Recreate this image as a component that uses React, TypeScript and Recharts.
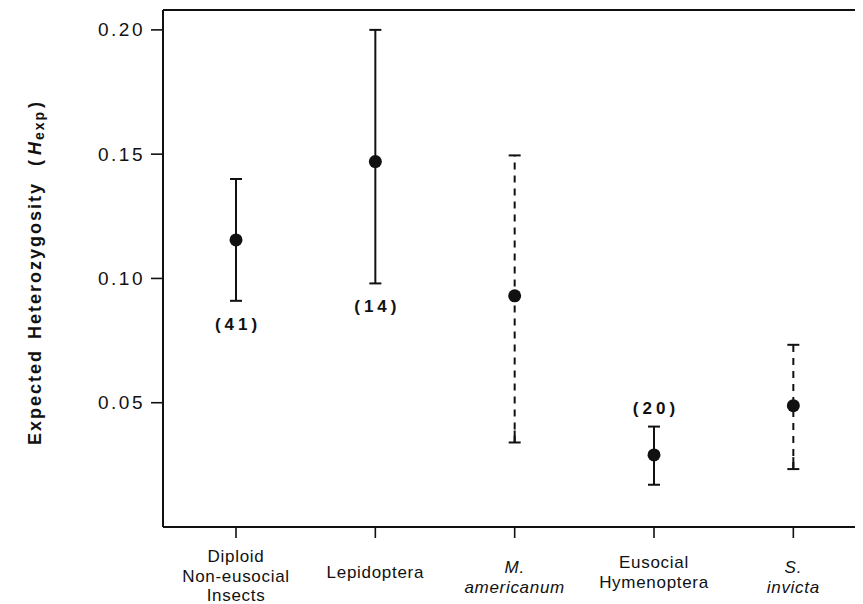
import React from 'react';
import { ComposedChart, Scatter, ErrorBar, XAxis, YAxis, ReferenceLine, ReferenceDot } from 'recharts';

// groups along the x axis
const categories = ['Diploid Non-eusocial Insects', 'Lepidoptera', 'M. americanum', 'Eusocial Hymenoptera', 'S. invicta'];
const tickLines = [['Diploid', 'Non-eusocial', 'Insects'], ['Lepidoptera'], ['M.', 'americanum'], ['Eusocial', 'Hymenoptera'], ['S.', 'invicta']];
const italicLabel = [false, false, true, false, true];

// expected heterozygosity, mean and interval ends
const meanH = [0.1155, 0.147, 0.093, 0.029, 0.0488];
const lowerH = [0.091, 0.098, 0.034, 0.017, 0.0233];
const upperH = [0.14, 0.2, 0.1495, 0.0404, 0.0733];
const dashed = [false, false, true, false, true];

// number of species per group
const sampleN = ['41', '14', '', '20', ''];
const nAbove = [false, false, false, true, false];

const yTicks = [0.05, 0.1, 0.15, 0.2];
const Y_MAX = 0.208;

const FONT = '"Liberation Sans", Arial, Helvetica, sans-serif';
const INK = '#111';

const rows = categories.map((name, i) => ({
  x: i,
  name,
  mean: meanH[i],
  err: [meanH[i] - lowerH[i], upperH[i] - meanH[i]],
}));
const solidRows = rows.filter((_, i) => !dashed[i]);
const dashedRows = rows.filter((_, i) => dashed[i]);

// first baseline below the axis line for each label block
const labelTop = [35, 51, 46, 41, 46];

const CategoryTick = (props: any) => {
  const { x, y, payload } = props;
  const i = payload.value;
  const lines = tickLines[i] || [];
  const base = y - 11;
  return (
    <g>
      {lines.map((line, k) => (
        <text
          key={k}
          x={x}
          y={base + labelTop[i] + k * 19.5}
          textAnchor="middle"
          fontFamily={FONT}
          fontSize={17}
          letterSpacing={0.7}
          fontStyle={italicLabel[i] ? 'italic' : 'normal'}
          fill={INK}
        >
          {line}
        </text>
      ))}
    </g>
  );
};

const ValueTick = (props: any) => {
  const { x, y, payload } = props;
  return (
    <text x={x} y={y} dy={6.5} textAnchor="end" fontFamily={FONT} fontSize={19} letterSpacing={2.5} fill={INK}>
      {Number(payload.value).toFixed(2)}
    </text>
  );
};

const Dot = (props: any) => <circle cx={props.cx} cy={props.cy} r={6.5} fill={INK} />;

const YTitle = (props: any) => {
  const vb = props.viewBox || {};
  const cx = 27;
  const cy = vb.y + vb.height / 2 + 4;
  return (
    <text
      x={cx}
      y={cy}
      transform={`rotate(-90 ${cx} ${cy})`}
      textAnchor="middle"
      dominantBaseline="central"
      fontFamily={FONT}
      fontSize={18}
      fontWeight="bold"
      letterSpacing={2}
      fill={INK}
    >
      Expected
      <tspan dx={10}>Heterozygosity</tspan>
      <tspan dx={16}>(</tspan>
      <tspan dx={3} fontStyle="italic">H</tspan>
      <tspan fontSize={14} dy={4}>exp</tspan>
      <tspan dy={-4} dx={2}>)</tspan>
    </text>
  );
};

const SampleLabel = (i: number) => (p: any) => (
  <text
    x={p.cx + 2}
    y={p.cy + (nAbove[i] ? -13 : 29)}
    textAnchor="middle"
    fontFamily={FONT}
    fontSize={17}
    fontWeight="bold"
    letterSpacing={4}
    fill={INK}
  >
    ({sampleN[i]})
  </text>
);

export default function App() {
  return (
    <ComposedChart width={855} height={596} margin={{ top: 2, right: 0, bottom: 0, left: 0 }}>
      <XAxis
        type="number"
        dataKey="x"
        domain={[-0.524, 4.5]}
        allowDataOverflow
        ticks={[0, 1, 2, 3, 4]}
        height={77}
        tickSize={11}
        tickMargin={0}
        tick={<CategoryTick />}
        axisLine={{ stroke: INK, strokeWidth: 2 }}
        tickLine={{ stroke: INK, strokeWidth: 1.6 }}
      />
      <YAxis
        type="number"
        dataKey="mean"
        domain={[0, Y_MAX]}
        allowDataOverflow
        ticks={yTicks}
        width={155}
        tickSize={12}
        tickMargin={6}
        tick={<ValueTick />}
        axisLine={{ stroke: INK, strokeWidth: 2 }}
        tickLine={{ stroke: INK, strokeWidth: 1.6 }}
        label={{ content: <YTitle /> }}
      />
      <ReferenceLine y={Y_MAX} stroke={INK} strokeWidth={2} />
      <Scatter data={solidRows} shape={<Dot />} isAnimationActive={false}>
        <ErrorBar dataKey="err" direction="y" width={6} stroke={INK} strokeWidth={2} isAnimationActive={false} />
      </Scatter>
      <Scatter data={dashedRows} shape={<Dot />} isAnimationActive={false}>
        {/* dashed stem without caps */}
        <ErrorBar
          dataKey="err"
          direction="y"
          width={0}
          stroke={INK}
          strokeWidth={2}
          strokeDasharray="7 6"
          isAnimationActive={false}
        />
        {/* solid caps only: the first 12px of each line */}
        <ErrorBar
          dataKey="err"
          direction="y"
          width={6}
          stroke={INK}
          strokeWidth={2}
          strokeDasharray="12 100000"
          isAnimationActive={false}
        />
      </Scatter>
      {categories.map((name, i) =>
        sampleN[i] ? (
          <ReferenceDot key={name} x={i} y={nAbove[i] ? upperH[i] : lowerH[i]} r={1} shape={SampleLabel(i)} />
        ) : null
      )}
    </ComposedChart>
  );
}
